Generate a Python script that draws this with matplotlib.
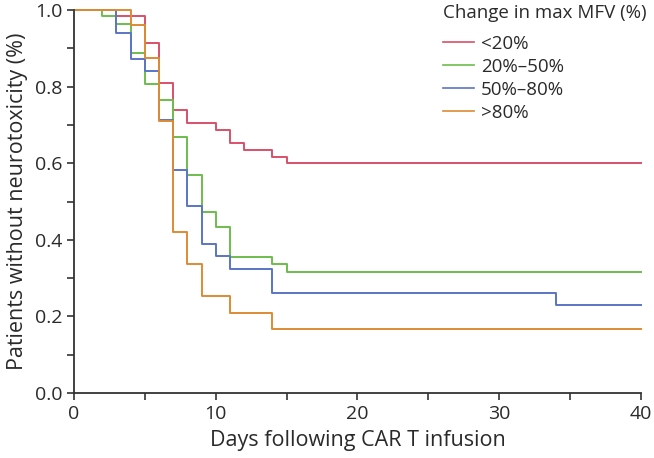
import matplotlib
matplotlib.use("Agg")
import matplotlib.pyplot as plt
from matplotlib.ticker import MultipleLocator

plt.rcParams['font.family'] = ['Open Sans', 'DejaVu Sans']

# Kaplan-Meier steps (day of event, survival after event)
lt20_days = [0, 3, 5, 6, 7, 8, 10, 11, 12, 14, 15, 40]
lt20_surv = [1.0, 0.985, 0.913, 0.810, 0.739, 0.704, 0.687, 0.652, 0.634, 0.617, 0.600, 0.600]

p20_50_days = [0, 2, 3, 4, 5, 6, 7, 8, 9, 10, 11, 14, 15, 40]
p20_50_surv = [1.0, 0.984, 0.963, 0.887, 0.806, 0.766, 0.668, 0.569, 0.472, 0.434, 0.355, 0.337, 0.317, 0.317]

p50_80_days = [0, 3, 4, 5, 6, 7, 8, 9, 10, 11, 14, 34, 40]
p50_80_surv = [1.0, 0.939, 0.872, 0.841, 0.712, 0.582, 0.487, 0.390, 0.358, 0.325, 0.261, 0.229, 0.229]

gt80_days = [0, 4, 5, 6, 7, 8, 9, 11, 14, 40]
gt80_surv = [1.0, 0.961, 0.876, 0.709, 0.420, 0.336, 0.252, 0.210, 0.168, 0.168]

labels = ["<20%", "20%\u201350%", "50%\u201380%", ">80%"]
colors = ["#d9506a", "#6dbd4c", "#5b74c6", "#de8a34"]
text_col = '#2a2a2a'

fig = plt.figure(figsize=(6.54, 4.58), dpi=100)
ax = fig.add_axes([0.1131, 0.142, 0.8670, 0.836])

series = [(lt20_days, lt20_surv), (p20_50_days, p20_50_surv),
          (p50_80_days, p50_80_surv), (gt80_days, gt80_surv)]
for (d, s), lab, c in zip(series, labels, colors):
    ax.step(d, s, where='post', color=c, lw=1.4, label=lab, clip_on=False)

ax.set_xlim(0, 40)
ax.set_ylim(0, 1.0)
ax.xaxis.set_major_locator(MultipleLocator(10))
ax.xaxis.set_minor_locator(MultipleLocator(5))
ax.yaxis.set_major_locator(MultipleLocator(0.2))
ax.yaxis.set_minor_locator(MultipleLocator(0.1))
ax.yaxis.set_major_formatter(matplotlib.ticker.FormatStrFormatter('%.1f'))

for side in ['top', 'right']:
    ax.spines[side].set_visible(False)
for side in ['left', 'bottom']:
    ax.spines[side].set_color('#333333')
    ax.spines[side].set_linewidth(1.3)

ax.tick_params(which='both', direction='out', color='#333333', width=1.2,
               length=5, labelsize=14, labelcolor=text_col, pad=3.5)

ax.set_xlabel("Days following CAR T infusion", fontsize=15.5, color=text_col, labelpad=5)
ax.set_ylabel("Patients without neurotoxicity (%)", fontsize=15.5, color=text_col, labelpad=5)

leg = ax.legend(title="Change in max MFV (%)", loc='upper left',
                bbox_to_anchor=(0.637, 1.035), frameon=False, fontsize=13.5,
                title_fontsize=13.5, alignment='left', handlelength=1.65,
                handletextpad=0.4, labelspacing=0.27, borderaxespad=0)
leg._legend_box.sep = 9
for line in leg.get_lines():
    line.set_linewidth(1.2)
plt.setp(leg.get_texts(), color=text_col)
leg.get_title().set_color(text_col)

fig.savefig("out.png", dpi=100)
